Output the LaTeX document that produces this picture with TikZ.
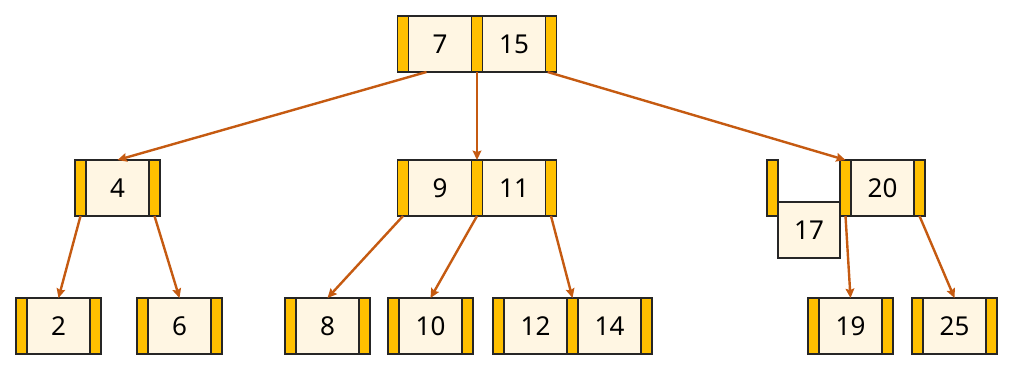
\documentclass[tikz,border=0pt]{standalone}
\usepackage{fontspec}
\setmainfont{Noto Sans}
\usepackage{xcolor}
\usetikzlibrary{arrows.meta,positioning}

\definecolor{ptrgold}{HTML}{FFC000}
\definecolor{keycream}{HTML}{FFF6E3}
\definecolor{edgebrown}{HTML}{C55A11}

\begin{document}
\begin{tikzpicture}[
  x=0.75pt,
  y=-0.75pt,
  font=\fontsize{19.5}{21}\selectfont,
  >={Stealth[length=7pt,width=6.5pt,inset=1pt]},
  ptr/.style={draw=black!85, line width=0.9pt, fill=ptrgold, outer sep=0pt,
    minimum width=8.25pt, minimum height=42pt, inner sep=0pt},
  key/.style={draw=black!85, line width=0.9pt, fill=keycream, outer sep=0pt,
    minimum width=47.25pt, minimum height=42pt, inner sep=0pt},
  link/.style={->, line width=1.8pt, draw=edgebrown}
]
\useasboundingbox (0,0) rectangle (1020,370);

% root
\node[ptr] (r-p0) at (403,44) {};
\node[key, right=0pt of r-p0] (r-k1) {7};
\node[ptr, right=0pt of r-k1] (r-p1) {};
\node[key, right=0pt of r-p1] (r-k2) {15};
\node[ptr, right=0pt of r-k2] (r-p2) {};

% level 1
\node[ptr] (a-p0) at (80.5,188) {};
\node[key, right=0pt of a-p0] (a-k1) {4};
\node[ptr, right=0pt of a-k1] (a-p1) {};

\node[ptr] (b-p0) at (403,188) {};
\node[key, right=0pt of b-p0] (b-k1) {9};
\node[ptr, right=0pt of b-k1] (b-p1) {};
\node[key, right=0pt of b-p1] (b-k2) {11};
\node[ptr, right=0pt of b-k2] (b-p2) {};

\node[ptr] (c-stub) at (772.5,188) {};
\node[key, minimum width=46.5pt] (c-new) at (809,230) {17};
\node[ptr] (c-p0) at (845.5,188) {};
\node[key, right=0pt of c-p0] (c-k1) {20};
\node[ptr, right=0pt of c-k1] (c-p1) {};

% leaves
\node[ptr] (l2-p0) at (21.5,326) {};
\node[key, right=0pt of l2-p0] (l2-k1) {2};
\node[ptr, right=0pt of l2-k1] (l2-p1) {};

\node[ptr] (l6-p0) at (142.5,326) {};
\node[key, right=0pt of l6-p0] (l6-k1) {6};
\node[ptr, right=0pt of l6-k1] (l6-p1) {};

\node[ptr] (l8-p0) at (290.5,326) {};
\node[key, right=0pt of l8-p0] (l8-k1) {8};
\node[ptr, right=0pt of l8-k1] (l8-p1) {};

\node[ptr] (l10-p0) at (393.5,326) {};
\node[key, right=0pt of l10-p0] (l10-k1) {10};
\node[ptr, right=0pt of l10-k1] (l10-p1) {};

\node[ptr] (l12-p0) at (498.5,326) {};
\node[key, right=0pt of l12-p0] (l12-k1) {12};
\node[ptr, right=0pt of l12-k1] (l12-p1) {};
\node[key, right=0pt of l12-p1] (l12-k2) {14};
\node[ptr, right=0pt of l12-k2] (l12-p2) {};

\node[ptr] (l19-p0) at (813.5,326) {};
\node[key, right=0pt of l19-p0] (l19-k1) {19};
\node[ptr, right=0pt of l19-k1] (l19-p1) {};

\node[ptr] (l25-p0) at (917.5,326) {};
\node[key, right=0pt of l25-p0] (l25-k1) {25};
\node[ptr, right=0pt of l25-k1] (l25-p1) {};

% links
\draw[link] ([xshift=13.5pt]r-k1.south west) -- (a-k1.north);
\draw[link] (r-p1.south) -- (b-p1.north);
\draw[link] ([xshift=-2.5pt]r-p2.south) -- (c-p0.north);

\draw[link] (a-p0.south) -- (l2-k1.north);
\draw[link] (a-p1.south) -- (l6-k1.north);

\draw[link] (b-p0.south) -- (l8-k1.north);
\draw[link] (b-p1.south) -- (l10-k1.north);
\draw[link] (b-p2.south) -- (l12-p1.north);

\draw[link] (c-p0.south) -- (l19-k1.north);
\draw[link] (c-p1.south) -- (l25-k1.north);

\end{tikzpicture}
\end{document}
